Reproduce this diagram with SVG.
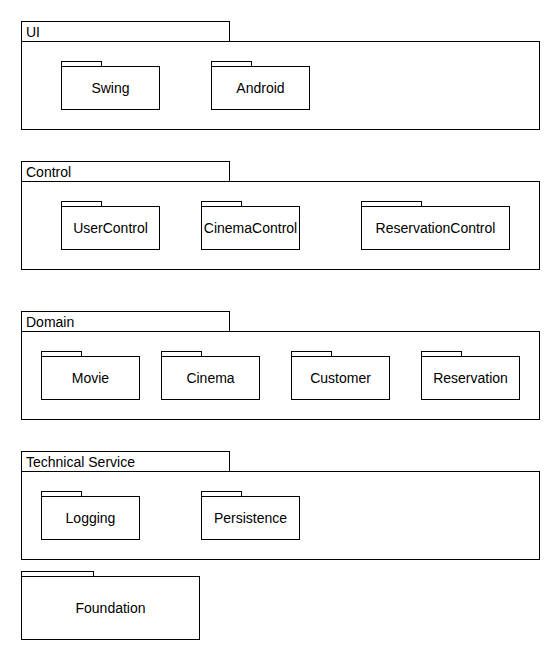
<svg xmlns="http://www.w3.org/2000/svg" width="560" height="660" viewBox="0 0 560 660">
<style>
.pk{fill:#ffffff;stroke:#000000;stroke-width:1}
.t{font-family:"Liberation Sans",Arial,sans-serif;font-size:14px;fill:#000000}
.c{text-anchor:middle}
</style>
<rect x="0" y="0" width="560" height="660" fill="#ffffff"/>
<g id="connectors"/>

<g id="UI">
<rect class="pk" x="21.5" y="21.5" width="208" height="20"/>
<rect class="pk" x="21.5" y="41.5" width="518" height="88"/>
<text class="t" x="26" y="37">UI</text>
</g>
<g id="Swing">
<rect class="pk" x="61.5" y="61.5" width="40" height="5"/>
<rect class="pk" x="61.5" y="66.5" width="98" height="43"/>
<text class="t c" x="110.5" y="93">Swing</text>
</g>
<g id="Android">
<rect class="pk" x="211.5" y="61.5" width="40" height="5"/>
<rect class="pk" x="211.5" y="66.5" width="98" height="43"/>
<text class="t c" x="260.5" y="93">Android</text>
</g>

<g id="Control">
<rect class="pk" x="21.5" y="161.5" width="208" height="20"/>
<rect class="pk" x="21.5" y="181.5" width="518" height="88"/>
<text class="t" x="26" y="177">Control</text>
</g>
<g id="UserControl">
<rect class="pk" x="61.5" y="201.5" width="40" height="5"/>
<rect class="pk" x="61.5" y="206.5" width="98" height="43"/>
<text class="t c" x="110.5" y="233">UserControl</text>
</g>
<g id="CinemaControl">
<rect class="pk" x="201.5" y="201.5" width="40" height="5"/>
<rect class="pk" x="201.5" y="206.5" width="98" height="43"/>
<text class="t c" x="250.5" y="233">CinemaControl</text>
</g>
<g id="ReservationControl">
<rect class="pk" x="361.5" y="201.5" width="60" height="5"/>
<rect class="pk" x="361.5" y="206.5" width="148" height="43"/>
<text class="t c" x="435.5" y="233">ReservationControl</text>
</g>

<g id="Domain">
<rect class="pk" x="21.5" y="311.5" width="208" height="20"/>
<rect class="pk" x="21.5" y="331.5" width="518" height="88"/>
<text class="t" x="26" y="327">Domain</text>
</g>
<g id="Movie">
<rect class="pk" x="41.5" y="351.5" width="40" height="5"/>
<rect class="pk" x="41.5" y="356.5" width="98" height="43"/>
<text class="t c" x="90.5" y="383">Movie</text>
</g>
<g id="Cinema">
<rect class="pk" x="161.5" y="351.5" width="40" height="5"/>
<rect class="pk" x="161.5" y="356.5" width="98" height="43"/>
<text class="t c" x="210.5" y="383">Cinema</text>
</g>
<g id="Customer">
<rect class="pk" x="291.5" y="351.5" width="40" height="5"/>
<rect class="pk" x="291.5" y="356.5" width="98" height="43"/>
<text class="t c" x="340.5" y="383">Customer</text>
</g>
<g id="Reservation">
<rect class="pk" x="421.5" y="351.5" width="40" height="5"/>
<rect class="pk" x="421.5" y="356.5" width="98" height="43"/>
<text class="t c" x="470.5" y="383">Reservation</text>
</g>

<g id="TechnicalService">
<rect class="pk" x="21.5" y="451.5" width="208" height="20"/>
<rect class="pk" x="21.5" y="471.5" width="518" height="88"/>
<text class="t" x="26" y="467">Technical Service</text>
</g>
<g id="Logging">
<rect class="pk" x="41.5" y="491.5" width="40" height="5"/>
<rect class="pk" x="41.5" y="496.5" width="98" height="43"/>
<text class="t c" x="90.5" y="523">Logging</text>
</g>
<g id="Persistence">
<rect class="pk" x="201.5" y="491.5" width="40" height="5"/>
<rect class="pk" x="201.5" y="496.5" width="98" height="43"/>
<text class="t c" x="250.5" y="523">Persistence</text>
</g>

<g id="Foundation">
<rect class="pk" x="21.5" y="571.5" width="72" height="5"/>
<rect class="pk" x="21.5" y="576.5" width="178" height="63"/>
<text class="t c" x="110.5" y="613">Foundation</text>
</g>
</svg>
